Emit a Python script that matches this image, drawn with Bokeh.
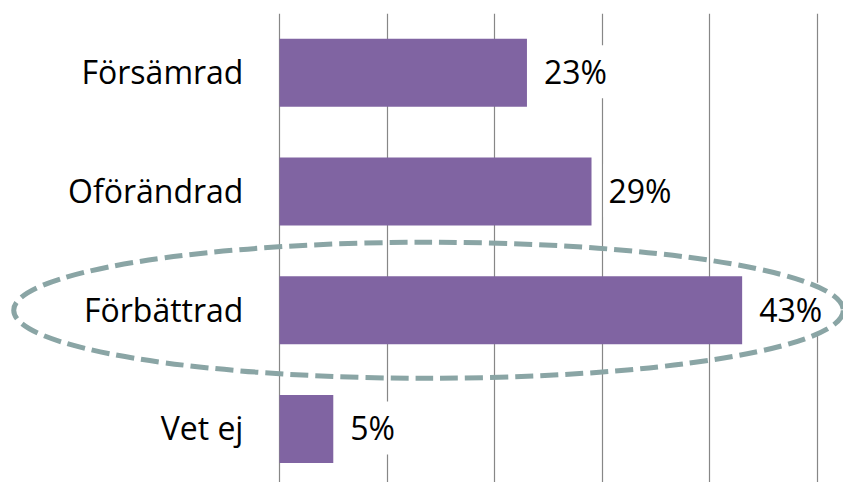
from bokeh.plotting import figure
from bokeh.models import Range1d, FixedTicker, ColumnDataSource
from bokeh.core.properties import value
from bokeh.embed import file_html
from bokeh.resources import INLINE

categories = ["Försämrad", "Oförändrad", "Förbättrad", "Vet ej"]
values = [23, 29, 43, 5]
labels = ["23%", "29%", "43%", "5%"]
grid_ticks = [0, 10, 20, 30, 40, 50]
highlight = "Förbättrad"

n = len(categories)
ypos = [n - 1 - i for i in range(n)]
src = ColumnDataSource(dict(cat=categories, val=values, lab=labels, y=ypos,
                            zero=[0] * n, lx=[-3.35] * n))

FONT = "Open Sans"

p = figure(width=843, height=482, output_backend="svg", toolbar_location=None,
           x_range=Range1d(-25.93, 52.42), y_range=Range1d(-0.451, 3.5),
           min_border_left=0, min_border_right=0, min_border_top=13, min_border_bottom=0)
p.axis.visible = False
p.outline_line_color = None
p.ygrid.grid_line_color = None
p.xgrid.ticker = FixedTicker(ticks=grid_ticks)
p.xgrid.grid_line_color = "#878787"
p.xgrid.grid_line_width = 1.2
p.background_fill_color = "white"
p.border_fill_color = "white"

p.hbar(y="y", left="zero", right="val", height=0.573, source=src,
       fill_color="#8064A2", line_color=None)

p.text(x="val", y="y", text="lab", source=src, x_offset=12, y_offset=-1,
       text_font=value(FONT), text_font_size="32px", text_color="black",
       text_baseline="middle", text_align="left",
       background_fill_color="white", padding=5)

p.text(x="lx", y="y", text="cat", source=src, y_offset=-1,
       text_font=value(FONT), text_font_size="32px", text_color="black",
       text_baseline="middle", text_align="right")

hy = ypos[categories.index(highlight)]
p.ellipse(x=[13.85], y=[hy], width=[77.1], height=[1.146],
          fill_color=None, line_color="#8aa5a5", line_width=5, line_dash="18 7")

open("out.html", "w").write(file_html(p, INLINE))
